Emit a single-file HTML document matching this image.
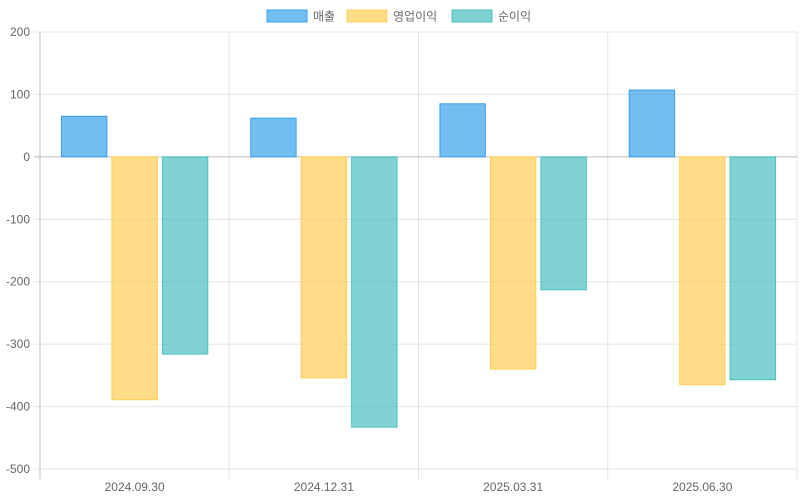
<!DOCTYPE html>
<html><head><meta charset="utf-8"><style>
html,body{margin:0;padding:0;background:#fff;}
svg{display:block;font-family:"Liberation Sans","Noto Sans CJK KR",sans-serif;}
</style></head><body>
<svg id="chart" width="800" height="500" xmlns="http://www.w3.org/2000/svg"></svg>
<script>
const categories = ["2024.09.30","2024.12.31","2025.03.31","2025.06.30"];
const seriesNames = ["매출","영업이익","순이익"];
const revenue = [65, 62, 85, 107];
const operatingProfit = [-389, -354, -340, -365];
const netProfit = [-316, -433, -213, -357];
const yTicks = [200,100,0,-100,-200,-300,-400,-500];

const fills = ["rgba(54,162,235,0.7)","rgba(255,206,86,0.7)","rgba(75,192,192,0.7)"];
const strokes = ["rgb(54,162,235)","rgb(255,206,86)","rgb(75,192,192)"];
const series = [revenue, operatingProfit, netProfit];
const plotLeft=40, plotRight=797, plotTop=32, plotBottom=469, yMax=200, yMin=-500;
const svg=document.getElementById('chart');
const NS="http://www.w3.org/2000/svg";
function yPos(v){return plotTop+(yMax-v)/(yMax-yMin)*(plotBottom-plotTop);}
const catW=(plotRight-plotLeft)/categories.length;
function mk(t,a){const e=document.createElementNS(NS,t);for(const k in a)e.setAttribute(k,a[k]);svg.appendChild(e);return e;}

yTicks.forEach(v=>{
  const l=mk('line',{x1:plotLeft-6,x2:plotRight,y1:yPos(v),y2:yPos(v),stroke:v===0?'rgba(0,0,0,0.25)':'rgba(0,0,0,0.1)','stroke-width':1});
  
  
  const t=mk('text',{x:plotLeft-10,y:yPos(v)+4,'text-anchor':'end','font-size':12,fill:'#666'});
  t.textContent=v;
  
  
});
for(let i=0;i<=categories.length;i++){
  const x=plotLeft+i*catW;
  const l=mk('line',{x1:x,x2:x,y1:plotTop,y2:plotBottom+10,stroke:i===0?'rgba(0,0,0,0.25)':'rgba(0,0,0,0.1)','stroke-width':1});
  
  
}
const groupW=catW*0.8, barW=groupW/3*0.9;
categories.forEach((c,i)=>{
  const gx=plotLeft+i*catW+(catW-groupW)/2;
  series.forEach((s,j)=>{
    const v=s[i];
    const bx=gx+j*groupW/3+(groupW/3-barW)/2;
    const y0=yPos(0), y1=yPos(v);
    const r=mk('rect',{x:bx,y:Math.min(y0,y1),width:barW,height:Math.abs(y1-y0),fill:fills[j],stroke:strokes[j],'stroke-width':1});
    
    
  });
  const t=mk('text',{x:plotLeft+i*catW+catW/2,y:plotBottom+22,'text-anchor':'middle','font-size':12,fill:'#666'});
  t.textContent=c;
  
  
});
const legendX=[267,347,452];
seriesNames.forEach((n,j)=>{
  const r=mk('rect',{x:legendX[j],y:10,width:40,height:12,fill:fills[j],stroke:strokes[j],'stroke-width':1});
  
  
  const t=mk('text',{x:legendX[j]+46,y:20.5,'font-size':12,fill:'#666'});
  t.textContent=n;
  
  
});
</script>
</body></html>
